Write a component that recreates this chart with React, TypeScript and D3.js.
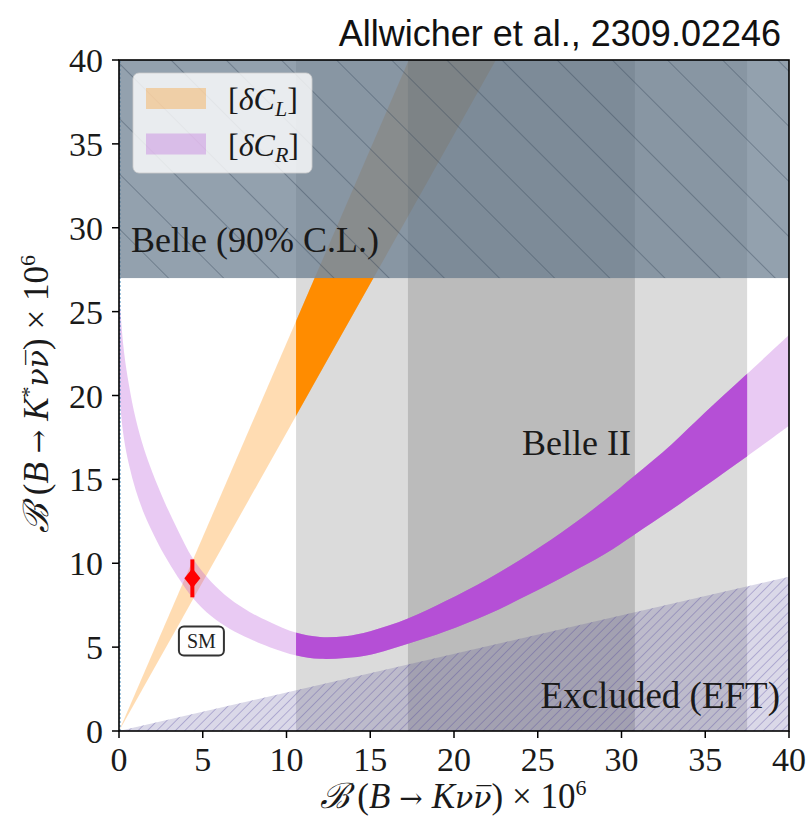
import React from 'react';
import * as d3 from 'd3';

// ---------- data ----------
const X_TICKS = [0, 5, 10, 15, 20, 25, 30, 35, 40];
const Y_TICKS = [0, 5, 10, 15, 20, 25, 30, 35, 40];

// purple [δC_R] band: sample x positions, upper and lower edges
const BAND_X = [0, 0.1, 0.3, 0.6, 1.0, 1.5, 2.0, 2.7, 3.5, 4.4, 5.5, 6.6, 7.8, 9.0, 10.6, 12.0, 13.5, 15, 17.25, 19.5, 22, 24.5, 27, 29, 30.76, 33, 35, 37.4, 40];
const BAND_UPPER = [27.3, 24.9, 22.6, 20.6, 18.6, 16.8, 15.4, 13.7, 12.0, 10.3, 8.9, 7.9, 7.1, 6.5, 5.85, 5.6, 5.65, 5.95, 6.7, 7.75, 9.05, 10.55, 12.25, 13.75, 15.2, 17.1, 19.0, 21.2, 23.6];
const BAND_LOWER = [21.05, 19.15, 17.4, 15.85, 14.35, 12.95, 11.85, 10.5, 9.2, 7.95, 6.85, 6.1, 5.5, 5.0, 4.5, 4.3, 4.35, 4.55, 5.2, 5.95, 6.95, 8.15, 9.45, 10.55, 11.7, 13.2, 14.6, 16.3, 18.2];

// orange [δC_L] wedge from origin: x where the two edges reach y = 40
const WEDGE_TOP = 40;
const WEDGE_X_AT_TOP = [17.3, 22.5];

// Belle II measurement bands (x ranges)
const BELLE2_OUTER = [10.57, 37.5];
const BELLE2_INNER = [17.25, 30.8];
// Belle 90% CL upper limit on B(K*)
const BELLE_LIMIT = 27;
// excluded (EFT) triangle edge
const EXCLUDED_EDGE_X = [0, 40];
const EXCLUDED_EDGE_Y = [0, 9.2];
// SM point
const SM_POINT = { x: 4.38, y: 9.1, yLo: 7.97, yHi: 10.23 };
const SM_LABEL_POS = { x: 4.92, y: 5.36 };

const LEGEND_LABELS = [
  { sub: 'L', color: '#ff8c00' },
  { sub: 'R', color: '#b54fd6' },
];

const W = 810;
const H = 822;
const SERIF = '"Liberation Serif", "DejaVu Serif", serif';
const SANS = '"Liberation Sans", Arial, sans-serif';
const DJV = '"DejaVu Serif", serif';

function AxisLabel({ star }: { star: boolean }) {
  return (
    <>
      <tspan fontStyle="italic">ℬ</tspan>
      <tspan> (</tspan>
      <tspan fontStyle="italic">B</tspan>
      <tspan fontFamily={DJV} fontSize={28}> → </tspan>
      <tspan fontStyle="italic">K</tspan>
      {star ? <tspan fontSize={22} dy={-12}>*</tspan> : null}
      <tspan fontStyle="italic" fontFamily={DJV} fontSize={30} dy={star ? 12 : 0}>{'νν\u0305'}</tspan>
      <tspan>) × 10</tspan>
      <tspan fontSize={22} dy={-13}>6</tspan>
    </>
  );
}

export default function App() {
  const x = d3.scaleLinear().domain([0, 40]).range([119, 789]);
  const y = d3.scaleLinear().domain([0, 40]).range([731, 60]);

  const bandArea = d3
    .area<number>()
    .x((_, i) => x(BAND_X[i]))
    .y0((_, i) => y(BAND_LOWER[i]))
    .y1((_, i) => y(BAND_UPPER[i]))
    .curve(d3.curveCatmullRom.alpha(0.5))(BAND_X) as string;

  const wedge = d3.line<[number, number]>().x((d) => x(d[0])).y((d) => y(d[1]))([
    [0, 0],
    [WEDGE_X_AT_TOP[0], WEDGE_TOP],
    [WEDGE_X_AT_TOP[1], WEDGE_TOP],
  ]) + 'Z';

  const excluded = d3.line<[number, number]>().x((d) => x(d[0])).y((d) => y(d[1]))([
    [EXCLUDED_EDGE_X[0], EXCLUDED_EDGE_Y[0]],
    [EXCLUDED_EDGE_X[1], EXCLUDED_EDGE_Y[1]],
    [EXCLUDED_EDGE_X[1], 0],
  ]) + 'Z';

  const x0 = x(0), x1 = x(40), y0 = y(0), y1 = y(40);

  const smx = x(SM_POINT.x), smy = y(SM_POINT.y);
  const lx = x(SM_LABEL_POS.x), ly = y(SM_LABEL_POS.y);

  return (
    <svg width={W} height={H} style={{ position: 'absolute', left: 0, top: 0, background: '#fff' }}>
      <defs>
        <clipPath id="plotClip">
          <rect x={x0} y={y1} width={x1 - x0} height={y0 - y1} />
        </clipPath>
        <clipPath id="belle2Clip">
          <rect x={x(BELLE2_OUTER[0])} y={y(BELLE_LIMIT)} width={x(BELLE2_OUTER[1]) - x(BELLE2_OUTER[0])} height={y(0) - y(BELLE_LIMIT)} />
        </clipPath>
        <pattern id="hatchBelle" patternUnits="userSpaceOnUse" width={39} height={39} patternTransform="rotate(-45)">
          <line x1={0} y1={0} x2={0} y2={39} stroke="#2c3e50" strokeOpacity={0.55} strokeWidth={1.3} />
        </pattern>
        <pattern id="hatchExcl" patternUnits="userSpaceOnUse" width={6.6} height={6.6} patternTransform="rotate(45)">
          <line x1={0} y1={0} x2={0} y2={6.6} stroke="#4a3f9a" strokeOpacity={0.6} strokeWidth={1} />
        </pattern>
      </defs>

      <g clipPath="url(#plotClip)">
        {/* pale bands */}
        <path d={wedge} fill="#ff8c00" fillOpacity={0.3} />
        <path d={bandArea} fill="#b54fd6" fillOpacity={0.3} />

        {/* Belle II bands */}
        <rect x={x(BELLE2_OUTER[0])} y={y1} width={x(BELLE2_OUTER[1]) - x(BELLE2_OUTER[0])} height={y0 - y1} fill="#000" fillOpacity={0.14} />
        <rect x={x(BELLE2_INNER[0])} y={y1} width={x(BELLE2_INNER[1]) - x(BELLE2_INNER[0])} height={y0 - y1} fill="#000" fillOpacity={0.145} />

        {/* dark bands inside Belle II and below Belle limit */}
        <g clipPath="url(#belle2Clip)">
          <path d={wedge} fill="#ff8c00" />
          <path d={bandArea} fill="#b54fd6" />
        </g>

        {/* excluded EFT */}
        <path d={excluded} fill="#483d8b" fillOpacity={0.2} />
        <path d={excluded} fill="url(#hatchExcl)" />

        {/* dotted line on x = 0 */}
        <line x1={x0 + 1} x2={x0 + 1} y1={y0} y2={y1} stroke="#1f77b4" strokeWidth={1.2} strokeDasharray="2,2" strokeOpacity={0.7} />

        {/* Belle limit */}
        <rect x={x0} y={y1} width={x1 - x0} height={y(BELLE_LIMIT) - y1} fill="#607488" fillOpacity={0.68} />
        <rect x={x0} y={y1} width={x1 - x0} height={y(BELLE_LIMIT) - y1} fill="url(#hatchBelle)" />
      </g>

      {/* SM point */}
      <line x1={smx} x2={smx} y1={y(SM_POINT.yLo)} y2={y(SM_POINT.yHi)} stroke="#ff0000" strokeWidth={4} />
      <path d={`M${smx},${smy - 10} L${smx + 8},${smy} L${smx},${smy + 10} L${smx - 8},${smy} Z`} fill="#ff0000" />
      <rect x={lx - 22.5} y={ly - 14.5} width={45} height={29} rx={5} fill="#fff" stroke="#333" strokeWidth={2} />
      <text x={lx} y={ly + 7} textAnchor="middle" fontFamily={SERIF} fontSize={20} fill="#222">SM</text>

      {/* region labels */}
      <text x={522} y={455} fontFamily={SERIF} fontSize={36} fill="#1a1a1a">Belle II</text>
      <text x={131} y={252} fontFamily={SERIF} fontSize={36} fill="#1a1a1a">Belle (90% C.L.)</text>
      <text x={780} y={708} textAnchor="end" fontFamily={SERIF} fontSize={37} fill="#1a1a1a">Excluded (EFT)</text>

      {/* legend */}
      <rect x={133} y={73} width={179} height={100} rx={6} fill="#fff" fillOpacity={0.8} stroke="#cccccc" strokeOpacity={0.8} />
      {LEGEND_LABELS.map((l, i) => (
        <g key={l.sub}>
          <rect x={146} y={88 + i * 45.5} width={60} height={21} fill={l.color} fillOpacity={0.3} />
          <text x={228} y={110 + i * 45.5} fontFamily={SERIF} fontSize={32} fill="#1a1a1a">
            <tspan>[</tspan>
            <tspan fontStyle="italic">δC</tspan>
            <tspan fontStyle="italic" fontSize={22} dy={6}>{l.sub}</tspan>
            <tspan dy={-6}>]</tspan>
          </text>
        </g>
      ))}

      {/* axes frame */}
      <rect x={x0} y={y1} width={x1 - x0} height={y0 - y1} fill="none" stroke="#000" strokeWidth={1.6} />
      {X_TICKS.map((t) => (
        <g key={'x' + t}>
          <line x1={x(t)} x2={x(t)} y1={y0} y2={y0 + 7} stroke="#000" strokeWidth={1.5} />
          <text x={x(t)} y={771} textAnchor="middle" fontFamily={SERIF} fontSize={34} fill="#1a1a1a">{t}</text>
        </g>
      ))}
      {Y_TICKS.map((t) => (
        <g key={'y' + t}>
          <line x1={x0 - 7} x2={x0} y1={y(t)} y2={y(t)} stroke="#000" strokeWidth={1.5} />
          <text x={103} y={y(t) + 12} textAnchor="end" fontFamily={SERIF} fontSize={34} fill="#1a1a1a">{t}</text>
        </g>
      ))}

      {/* axis labels */}
      <text x={453} y={808} textAnchor="middle" fontFamily={SERIF} fontSize={35} fill="#1a1a1a">
        <AxisLabel star={false} />
      </text>
      <text transform="translate(48,394) rotate(-90)" textAnchor="middle" fontFamily={SERIF} fontSize={35} fill="#1a1a1a">
        <AxisLabel star={true} />
      </text>

      {/* title */}
      <text x={781} y={46} textAnchor="end" fontFamily={SANS} fontSize={36} fill="#111">Allwicher et al., 2309.02246</text>
    </svg>
  );
}
